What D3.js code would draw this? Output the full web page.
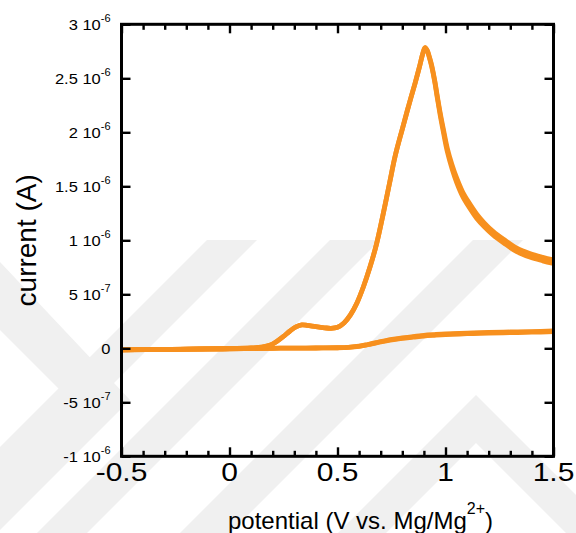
<!DOCTYPE html>
<html>
<head>
<meta charset="utf-8">
<script src="https://cdn.jsdelivr.net/npm/d3@7"></script>
<style>
  html, body { margin: 0; padding: 0; background: #fff; }
  svg { display: block; }
  text { font-family: "Liberation Sans", Arial, sans-serif; fill: #000; }
</style>
</head>
<body>
<svg id="chart" width="576" height="533"></svg>
<script>
// ---------------- data ----------------
const potentialFwd = [-0.5,-0.3,-0.1,0.0,0.1,0.15,0.19,0.22,0.25,0.28,0.31,0.335,0.36,0.40,0.44,0.47,0.50,0.53,0.56,0.59,0.62,0.65,0.68,0.71,0.74,0.767,0.80,0.83,0.86,0.88,0.895,0.905,0.915,0.925,0.936,0.95,0.962,0.975,0.99,1.008,1.03,1.052,1.08,1.11,1.144,1.18,1.22,1.27,1.33,1.39,1.45,1.5];
// current in units of 1e-6 A, two overlapping cycles
const currentFwd1 = [-0.015,-0.011,-0.006,-0.003,0.003,0.01,0.03,0.065,0.11,0.16,0.2,0.216,0.212,0.2,0.19,0.185,0.195,0.235,0.31,0.42,0.57,0.75,0.96,1.23,1.52,1.78,2.03,2.25,2.46,2.61,2.73,2.785,2.76,2.70,2.62,2.48,2.335,2.185,2.03,1.855,1.70,1.575,1.445,1.345,1.245,1.16,1.083,1.007,0.927,0.877,0.842,0.818];
const currentFwd2 = [-0.015,-0.011,-0.006,-0.003,0.003,0.01,0.03,0.065,0.11,0.16,0.2,0.216,0.212,0.2,0.19,0.185,0.195,0.235,0.31,0.42,0.57,0.75,0.96,1.23,1.52,1.78,2.03,2.25,2.46,2.61,2.73,2.78,2.755,2.695,2.61,2.47,2.32,2.165,2.005,1.825,1.665,1.535,1.405,1.305,1.205,1.125,1.05,0.975,0.895,0.845,0.81,0.785];
const potentialRev = [1.5,1.4,1.3,1.2,1.1,1.0,0.95,0.9,0.85,0.8,0.76,0.72,0.68,0.64,0.6,0.55,0.5,0.4,0.3,0.2,0.1,0.0,-0.2,-0.4,-0.5];
const currentRev1 = [0.160,0.155,0.151,0.147,0.141,0.133,0.127,0.120,0.109,0.096,0.084,0.070,0.053,0.035,0.019,0.009,0.005,0.003,0.002,0.0,-0.002,-0.004,-0.008,-0.012,-0.015];
const currentRev2 = [0.154,0.149,0.145,0.141,0.135,0.127,0.121,0.114,0.103,0.092,0.080,0.066,0.051,0.033,0.017,0.008,0.005,0.003,0.002,0.0,-0.002,-0.004,-0.008,-0.012,-0.015];

const xMajorTicks = [-0.5, 0, 0.5, 1, 1.5];
const xTickLabels = ["-0.5", "0", "0.5", "1", "1.5"];
const xMinorTicks = [-0.4,-0.3,-0.2,-0.1,0.1,0.2,0.3,0.4,0.6,0.7,0.8,0.9,1.1,1.2,1.3,1.4];
const yTicks = [3, 2.5, 2, 1.5, 1, 0.5, 0, -0.5, -1];
const yTickMantissa = ["3", "2.5", "2", "1.5", "1", "5", "0", "-5", "-1"];
const yTickExponent = ["-6", "-6", "-6", "-6", "-6", "-7", "", "-7", "-6"];

const xTitle = "potential (V vs. Mg/Mg";
const xTitleSup = "2+";
const yTitle = "current (A)";

// ---------------- layout ----------------
const svg = d3.select("#chart");
const L = 121.5, R = 553.5, T = 24.3, B = 456.3;
const x = d3.scaleLinear().domain([-0.5, 1.5]).range([L, R]);
const y = d3.scaleLinear().domain([-1, 3]).range([B, T]);
const orange = "#F7901E";

// watermark (very light grey background pattern)
const wm = svg.append("g").attr("fill", "#f0f0f0");
[207, 330, 473].forEach(a => {
  wm.append("polygon").attr("points",
    `${a},240 ${a+50},240 ${a+50-293},533 ${a-293},533`);
});
wm.append("polygon").attr("points", "0,262 0,330 70,400 0,470 0,530 130,400");
wm.append("polygon").attr("points", "476,395 576,495 576,533 566,533 476,443 386,533 338,533");

// ---------------- curves ----------------
const line = d3.line().x(d => x(d[0])).y(d => y(d[1])).curve(d3.curveCatmullRom.alpha(0.5));
const g = svg.append("g").attr("fill", "none").attr("stroke", orange)
  .attr("stroke-width", 4.8).attr("stroke-linejoin", "round").attr("stroke-linecap", "butt");
[[potentialRev, currentRev1], [potentialRev, currentRev2],
 [potentialFwd, currentFwd1], [potentialFwd, currentFwd2]].forEach(([vx, vy]) => {
  g.append("path").attr("d", line(vx.map((v, i) => [v, vy[i]])));
});

// ---------------- axes ----------------
const tickStroke = (sel) => sel.selectAll("line").attr("stroke", "#000").attr("stroke-width", 2.4);
const clean = (sel) => { sel.select(".domain").remove(); sel.selectAll("text").remove(); };

svg.append("g").attr("transform", `translate(0,${B})`)
  .call(d3.axisBottom(x).tickValues(xMajorTicks).tickSize(-9).tickFormat(""))
  .call(clean).call(tickStroke);
svg.append("g").attr("transform", `translate(0,${B})`)
  .call(d3.axisBottom(x).tickValues(xMinorTicks).tickSize(-5.5).tickFormat(""))
  .call(clean).call(tickStroke);
svg.append("g").attr("transform", `translate(0,${T})`)
  .call(d3.axisTop(x).tickValues(xMajorTicks).tickSize(-9).tickFormat(""))
  .call(clean).call(tickStroke);
svg.append("g").attr("transform", `translate(0,${T})`)
  .call(d3.axisTop(x).tickValues(xMinorTicks).tickSize(-5.5).tickFormat(""))
  .call(clean).call(tickStroke);
svg.append("g").attr("transform", `translate(${L},0)`)
  .call(d3.axisLeft(y).tickValues(yTicks).tickSize(-9).tickFormat(""))
  .call(clean).call(tickStroke);
svg.append("g").attr("transform", `translate(${R},0)`)
  .call(d3.axisRight(y).tickValues(yTicks).tickSize(-9).tickFormat(""))
  .call(clean).call(tickStroke);

// frame
svg.append("rect").attr("x", L).attr("y", T).attr("width", R - L).attr("height", B - T)
  .attr("fill", "none").attr("stroke", "#000").attr("stroke-width", 3);

// x tick labels
xMajorTicks.forEach((v, i) => {
  svg.append("text")
    .attr("transform", `translate(${x(v)},${481}) scale(1.2,1)`)
    .attr("text-anchor", "middle").attr("font-size", 25)
    .text(xTickLabels[i]);
});

// y tick labels
yTicks.forEach((v, i) => {
  const t = svg.append("text")
    .attr("transform", `translate(110.5,${y(v) + 5.3}) scale(1.1,1)`)
    .attr("text-anchor", "end").attr("font-size", 15);
  if (yTickExponent[i]) {
    t.append("tspan").text(yTickMantissa[i] + " 10");
    t.append("tspan").attr("font-size", 10).attr("dy", -8).text(yTickExponent[i]);
  } else {
    t.append("tspan").text(yTickMantissa[i]);
  }
});

// titles
const xt = svg.append("text").attr("x", 228).attr("y", 529).attr("font-size", 24);
xt.append("tspan").text(xTitle);
xt.append("tspan").attr("font-size", 16).attr("dy", -15).text(xTitleSup);
xt.append("tspan").attr("dy", 15).text(")");

svg.append("text")
  .attr("transform", `translate(36,${(T + B) / 2}) rotate(-90)`)
  .attr("text-anchor", "middle").attr("font-size", 28)
  .text(yTitle);
</script>
</body>
</html>
